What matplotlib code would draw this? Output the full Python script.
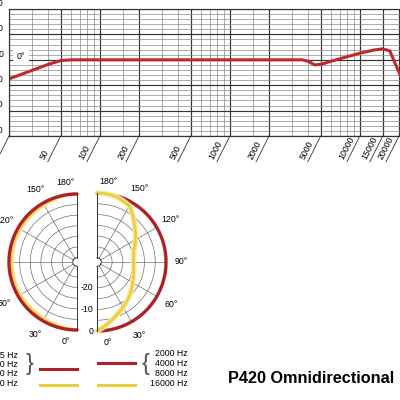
import numpy as np
import matplotlib
matplotlib.use('Agg')
import matplotlib.pyplot as plt
from matplotlib.ticker import FixedLocator, NullFormatter
from matplotlib.lines import Line2D

plt.rcParams['font.family'] = ['Liberation Sans', 'DejaVu Sans']

# frequency response, 0 deg
freq_hz = [20, 30, 40, 50, 60, 100, 1000, 3600, 4000, 4500, 5000, 7000, 10000, 13000, 15000, 17000, 18600, 20400, 21500]
resp_db = [-7.5, -4.2, -1.8, -0.3, 0, 0, 0, 0, -0.6, -2.0, -1.8, 0.4, 2.6, 3.9, 4.3, 3.5, -1.2, -6.0, -9.0]
major_freqs = [20, 50, 100, 200, 500, 1000, 2000, 5000, 10000, 15000, 20000]
minor_freqs = [30, 40, 60, 70, 80, 90, 150, 300, 400, 600, 700, 800, 900, 1500,
               3000, 4000, 6000, 7000, 8000, 9000]
db_labels = [-30, -20, -10, 0, 10, 20]

# polar patterns (dB vs angle)
angles = [0, 10, 20, 30, 45, 60, 75, 90, 105, 120, 135, 150, 165, 180]
low_red = [0, 0, 0, 0, 0, 0, 0, 0, 0, 0, 0, 0, 0, 0]
low_yellow = [0, -0.5, -0.9, -1.1, -1.3, -1.3, -1.3, -1.3, -1.3, -1.3, -1.2, -1.0, -0.5, 0]
high_red = [0, 0, 0, 0, 0, 0, 0, 0, 0, 0, 0, 0, 0, 0]
high_yellow = [0, -3.0, -5.8, -7.8, -10.5, -13.0, -14.5, -15.2, -14.5, -11.5, -7.5, -2.0, -0.3, 0]
polar_rings = [-25, -20, -15, -10, -5]
radial_labels = [0, -10, -20]

left_legend = ['125 Hz', '250 Hz', '500 Hz', '1000 Hz']
right_legend = ['2000 Hz', '4000 Hz', '8000 Hz', '16000 Hz']

RED = '#c0282f'
PRED = '#ad2229'
YEL = '#ecce3e'
HALO = '#f8eba8'
W = H = 400.0


def px_rect(x0, y0, x1, y1):
    return [x0 / W, 1 - y1 / H, (x1 - x0) / W, (y1 - y0) / H]


fig = plt.figure(figsize=(4, 4), dpi=100)

# ---- frequency response ----
ax = fig.add_axes(px_rect(9, 9, 409.3, 136))
ax.set_xscale('log')
ax.set_xlim(20, 24000)
ax.set_ylim(-30, 20)
ax.xaxis.set_major_locator(FixedLocator(major_freqs))
ax.xaxis.set_minor_locator(FixedLocator(minor_freqs))
ax.xaxis.set_major_formatter(NullFormatter())
ax.xaxis.set_minor_formatter(NullFormatter())
ax.set_yticks(db_labels)
ax.set_yticks(range(-30, 21, 2), minor=True)
ax.tick_params(which='both', length=0, labelbottom=False, labelleft=False)
ax.grid(which='major', color='#333333', lw=0.85)
ax.grid(which='minor', color='#8a8a8a', lw=0.5)
for s in ax.spines.values():
    s.set_color('#333333')
    s.set_linewidth(0.85)

ax.plot(freq_hz, resp_db, color=RED, lw=2.2, solid_joinstyle='round', solid_capstyle='round')

for f in major_freqs:
    ax.annotate('', xy=(f, 0), xycoords=('data', 'axes fraction'),
                xytext=(-9.4, -18.7), textcoords='offset points',
                arrowprops=dict(arrowstyle='-', lw=0.6, color='#333333', shrinkA=0, shrinkB=0))
    ax.annotate(str(f), xy=(f, 0), xycoords=('data', 'axes fraction'),
                xytext=(-10.6, -18.2), textcoords='offset points',
                rotation=63, rotation_mode='anchor', ha='left', va='bottom', fontsize=6.3)

for v in db_labels:
    ax.annotate(str(v), xy=(0, v), xycoords=('axes fraction', 'data'),
                xytext=(-4, 0.8), textcoords='offset points',
                ha='right', va='bottom', fontsize=6.3)

ax.text(24.7, 1.2, '0°', ha='center', va='center', fontsize=6.3,
        bbox=dict(boxstyle='square,pad=0.4', fc='white', ec='none'))


# ---- polar patterns ----
def half_polar(cx, cy, r, direction):
    # polar axes are square; a half wedge sits in the middle half of the box
    if direction == 1:
        rect = px_rect(cx - r / 2, cy - r, cx + 1.5 * r, cy + r)
    else:
        rect = px_rect(cx - 1.5 * r, cy - r, cx + r / 2, cy + r)
    pax = fig.add_axes(rect, projection='polar')
    pax.patch.set_alpha(0)
    pax.set_theta_zero_location('S')
    pax.set_theta_direction(direction)
    pax.set_thetamin(0)
    pax.set_thetamax(180)
    pax.set_rlim(-30, 0)
    pax.set_rorigin(-32)
    pax.set_xticks(np.deg2rad(range(0, 181, 30)))
    pax.set_xticklabels([])
    pax.set_yticks(polar_rings)
    pax.set_yticklabels([])
    pax.tick_params(length=0)
    pax.grid(color='#606060', lw=0.45)
    pax.spines['polar'].set_visible(False)
    for s in ('start', 'end', 'inner'):
        pax.spines[s].set_color('#333333')
        pax.spines[s].set_linewidth(0.7)
    for a, rr in [(8, 5.6), (30, 7.3), (60, 7.5), (90, 7.3), (120, 7.5), (150, 7.3), (172, 5.6)]:
        lab = 180 if a == 172 else (0 if a == 8 else a)
        pax.text(np.deg2rad(a), rr, '%d°' % lab, ha='center', va='center', fontsize=6.3)
    return pax


def polar_line(pax, values, **kw):
    line, = pax.plot(np.deg2rad(angles), values, clip_on=False,
                     solid_joinstyle='round', solid_capstyle='round', **kw)
    # let the polar transform draw each segment as a curve
    line.get_path()._interpolation_steps = 60
    return line


pl = half_polar(77, 262, 68, -1)
polar_line(pl, low_yellow, color=HALO, lw=3.0)
polar_line(pl, low_yellow, color=YEL, lw=1.0)
polar_line(pl, low_red, color=PRED, lw=2.4)

pr = half_polar(97, 262, 69, 1)
polar_line(pr, high_red, color=PRED, lw=2.4)
polar_line(pr, high_yellow, color=HALO, lw=4.0)
polar_line(pr, high_yellow, color=YEL, lw=2.0)
for v in radial_labels:
    pr.annotate(str(v), xy=(0, v), xytext=(-2.5, 0), textcoords='offset points',
                ha='right', va='center', fontsize=6.3)

# ---- legend ----
for i, lab in enumerate(left_legend):
    fig.text(18 / W, 1 - (355 + i * 9.5) / H, lab, ha='right', va='center', fontsize=6.3)
for i, lab in enumerate(right_legend):
    fig.text(188 / W, 1 - (354 + i * 9.8) / H, lab, ha='right', va='center', fontsize=6.3)
fig.text(30 / W, 1 - 364 / H, '}', ha='center', va='center', fontsize=17, color='#555555')
fig.text(146 / W, 1 - 364 / H, '{', ha='center', va='center', fontsize=17, color='#555555')

for x0, x1, y, c in [(40, 77, 369, PRED), (40, 77, 385, YEL), (98, 135, 363, PRED), (98, 135, 385, YEL)]:
    fig.add_artist(Line2D([x0 / W, x1 / W], [1 - y / H, 1 - y / H], transform=fig.transFigure,
                          color=c, lw=2.2))

fig.text(228 / W, 1 - 383 / H, 'P420 Omnidirectional', fontsize=11.7, fontweight='bold',
         ha='left', va='baseline')

fig.savefig('out.png', dpi=100)
